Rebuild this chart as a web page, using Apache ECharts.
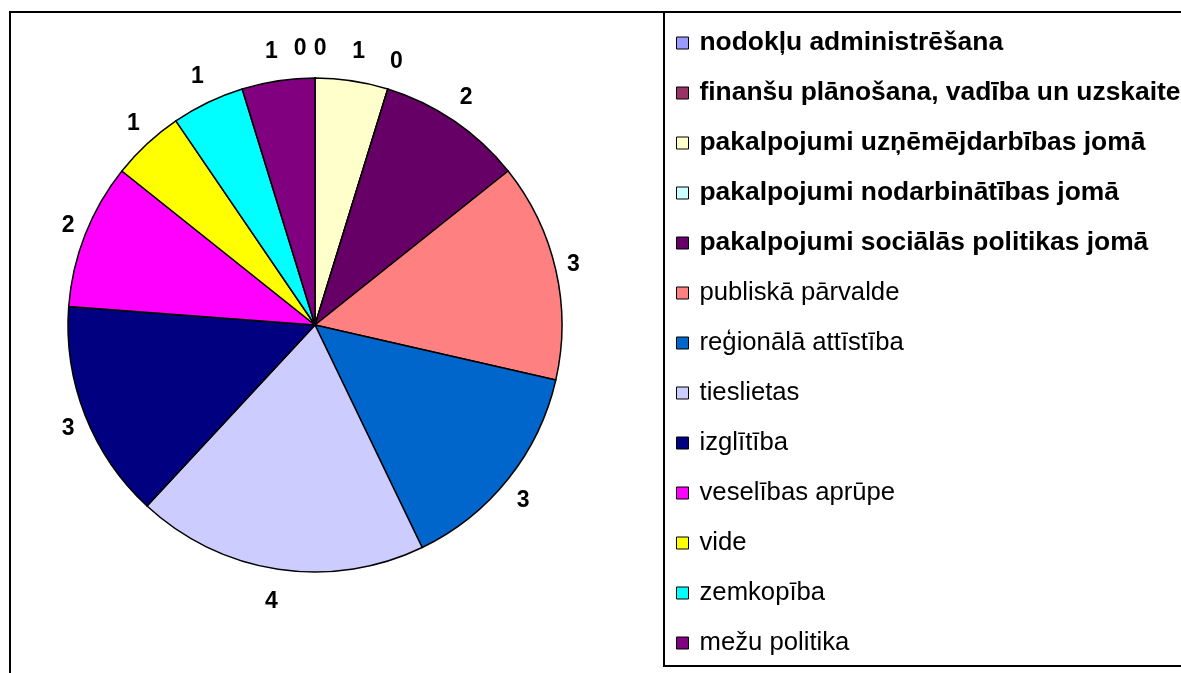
<!DOCTYPE html>
<html>
<head>
    <meta charset="utf-8">
    <title>Nozares</title>
    <script src="https://cdn.jsdelivr.net/npm/echarts@6/dist/echarts.min.js"></script>
</head>
<body style="margin:0;background:#fff;">
    <div id="main" style="width:1181px;height:673px;"></div>
    <script type="text/javascript">
    var myChart = echarts.init(document.getElementById('main'));

    // Data
    var categories = [
      'nodokļu administrēšana',
      'finanšu plānošana, vadība un uzskaite',
      'pakalpojumi uzņēmējdarbības jomā',
      'pakalpojumi nodarbinātības jomā',
      'pakalpojumi sociālās politikas jomā',
      'publiskā pārvalde',
      'reģionālā attīstība',
      'tieslietas',
      'izglītība',
      'veselības aprūpe',
      'vide',
      'zemkopība',
      'mežu politika'
    ];
    var values = [0, 0, 1, 0, 2, 3, 3, 4, 3, 2, 1, 1, 1];
    var boldLegend = [true, true, true, true, true, false, false, false, false, false, false, false, false];

    // Set color
    var colors = ['#9999ff', '#993366', '#ffffcc', '#ccffff', '#660066', '#ff8080',
                  '#0066cc', '#ccccff', '#000080', '#ff00ff', '#ffff00', '#00ffff', '#800080'];
    var font = 'Liberation Sans, Arial, sans-serif';

    var pieCenter = [315, 325];
    var pieRadius = 247;
    var labelLen = 24;
    // excel puts labels a bit further out above/below than at the sides
    var stretchX = 260 / (pieRadius + labelLen);
    var stretchY = 278 / (pieRadius + labelLen);

    var pieData = categories.map(function (name, i) {
      return { name: name, value: values[i] };
    });
    var legendData = categories.map(function (name, i) {
      return {
        name: name,
        textStyle: boldLegend[i] ? { fontWeight: 'bold', fontSize: 26.4 } : { fontWeight: 'normal' }
      };
    });

    var option = {
      backgroundColor: '#fff',
      animation: false,
      color: colors,
      graphic: [{
        type: 'rect',
        shape: { x: 10, y: 12, width: 1400, height: 900 },
        style: { fill: 'none', stroke: '#000', lineWidth: 2 },
        z: -1
      }, {
        type: 'rect',
        shape: { x: 664, y: 12, width: 800, height: 654 },
        style: { fill: '#fff', stroke: '#000', lineWidth: 2 },
        z: -1
      }],
      legend: {
        orient: 'vertical',
        left: 676,
        top: 30,
        padding: 0,
        itemGap: 24,
        itemWidth: 12,
        itemHeight: 12,
        icon: 'rect',
        itemStyle: { borderColor: '#000', borderWidth: 1 },
        textStyle: {
          color: '#000',
          fontFamily: font,
          fontSize: 25.7,
          lineHeight: 26,
          padding: [0, 0, 0, 6]
        },
        data: legendData
      },
      series: [{
        name: 'nozares',
        type: 'pie',
        center: pieCenter,
        radius: pieRadius,
        startAngle: 90,
        clockwise: true,
        avoidLabelOverlap: false,
        itemStyle: { borderColor: '#000', borderWidth: 1.5 },
        emphasis: { disabled: true },
        label: {
          show: true,
          position: 'outside',
          formatter: '{c}',
          color: '#000',
          fontFamily: font,
          fontWeight: 'bold',
          fontSize: 23
        },
        labelLine: { show: false, length: labelLen, length2: 0 },
        labelLayout: function (p) {
          var r = p.labelRect;
          var ax = p.align === 'right' ? r.x + r.width : (p.align === 'center' ? r.x + r.width / 2 : r.x);
          var ay = r.y + r.height / 2;
          var x = pieCenter[0] + (ax - pieCenter[0]) * stretchX;
          var y = pieCenter[1] + (ay - pieCenter[1]) * stretchY + 2;
          // two empty slices share one spot at the top
          if (p.dataIndex === 0) x -= 10;
          if (p.dataIndex === 1) x += 10;
          return { x: x, y: y, align: 'center', verticalAlign: 'middle' };
        },
        data: pieData
      }]
    };

    myChart.setOption(option);
    </script>
</body>
</html>
